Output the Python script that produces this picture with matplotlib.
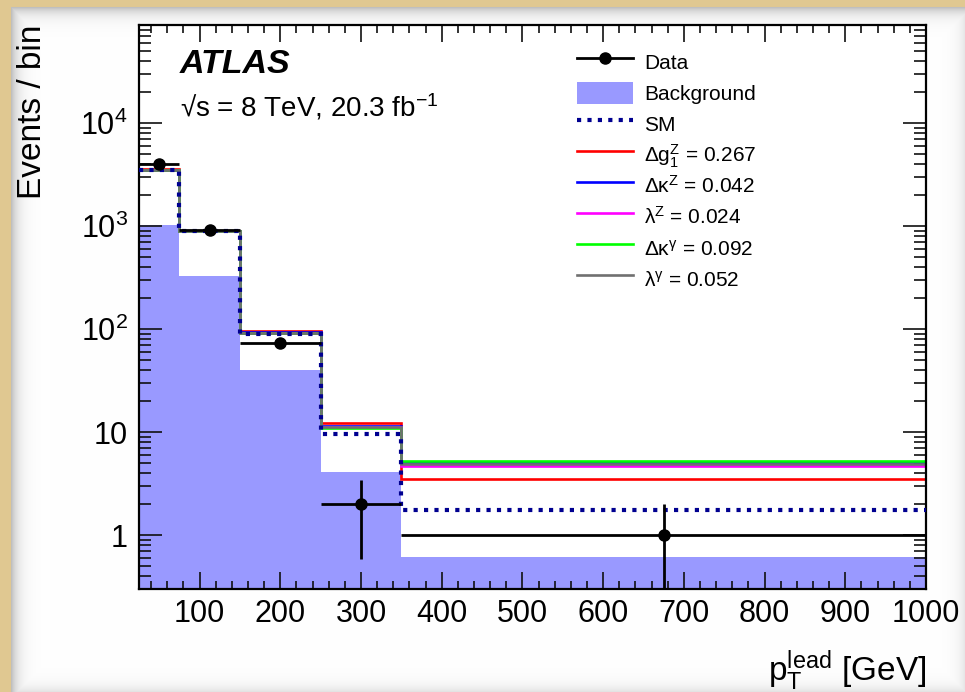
import numpy as np
import matplotlib.pyplot as plt
from matplotlib.lines import Line2D
from matplotlib.legend_handler import HandlerPatch
from matplotlib.ticker import FixedLocator, LogLocator, MultipleLocator, FixedFormatter, NullFormatter

plt.rcParams['font.family'] = ['Liberation Sans', 'DejaVu Sans']
plt.rcParams['mathtext.fontset'] = 'custom'
plt.rcParams['mathtext.rm'] = 'Liberation Sans'
plt.rcParams['mathtext.it'] = 'Liberation Sans'
plt.rcParams['mathtext.default'] = 'regular'

# binning in leading photon pT (GeV)
edges = [25, 75, 150, 250, 350, 1000]

# event counts per bin
data = [4040, 920, 74, 2, 1]
background = [1030, 327, 40, 4.06, 0.62]
sm = [3520, 890, 89, 9.5, 1.76]
dg1z = [3560, 905, 97, 12.3, 3.5]
dkz = [3540, 895, 93, 11.5, 5.1]
lz = [3530, 895, 92, 11.3, 4.65]
dkg = [3550, 900, 92, 11.1, 5.25]
lg = [3530, 893, 92, 11.3, 4.9]

atgc_labels = [r'$\Delta g_{1}^{Z}$ = 0.267', r'$\Delta\kappa^{Z}$ = 0.042',
               r'$\lambda^{Z}$ = 0.024', r'$\Delta\kappa^{\gamma}$ = 0.092',
               r'$\lambda^{\gamma}$ = 0.052']
atgc_colors = ['#ff0000', '#0000ff', '#ff00ff', '#00ff00', '#707070']

ytick_vals = [1, 10, 100, 1000, 10000]
ytick_labels = ['1', '10', r'$10^{2}$', r'$10^{3}$', r'$10^{4}$']

W, H = 965, 692
fig = plt.figure(figsize=(W / 100, H / 100), dpi=100)

# paper backdrop with a soft inner shadow on the white sheet
yy, xx = np.mgrid[0:H, 0:W]
x0, y0 = 11, 7
d = np.minimum.reduce([xx - x0, yy - y0, W + 6 - xx, H + 5 - yy]).astype(float)
shade = 1 - 0.25 * np.exp(-np.clip(d, 0, None) / 7.0)
img = np.repeat(shade[..., None], 3, axis=2)
beige = np.array([224, 200, 146]) / 255.0
img[(xx < x0) | (yy < y0)] = beige
bg = fig.add_axes([0, 0, 1, 1], zorder=-10)
bg.imshow(img, aspect='auto', interpolation='bilinear')
bg.set_axis_off()

ax = fig.add_axes([139 / W, 1 - 589 / H, 787 / W, 564 / H])
ax.set_facecolor('white')

centers = [(lo + hi) / 2 for lo, hi in zip(edges[:-1], edges[1:])]
halfw = [(hi - lo) / 2 for lo, hi in zip(edges[:-1], edges[1:])]

ax.stairs(background, edges, fill=True, baseline=1e-3, color='#9999ff', zorder=1)

for vals, col in zip([dg1z, dkz, lz, dkg, lg], atgc_colors):
    ax.stairs(vals, edges, baseline=None, color=col, lw=1.9, zorder=2)

sm_style = dict(color='#000090', lw=3.0, linestyle=(0, (1, 1.5)))
ax.stairs(sm, edges, baseline=None, zorder=3, **sm_style)

ax.errorbar(centers, data, xerr=halfw, yerr=np.sqrt(data), fmt='o', color='black',
            ms=8, lw=2.0, capsize=0, zorder=4)

ax.set_yscale('log')
ax.set_xlim(25, 1000)
ax.set_ylim(0.3, 9e4)

ax.xaxis.set_major_locator(MultipleLocator(100))
ax.xaxis.set_minor_locator(MultipleLocator(20))
ax.yaxis.set_major_locator(FixedLocator(ytick_vals))
ax.yaxis.set_major_formatter(FixedFormatter(ytick_labels))
ax.yaxis.set_minor_locator(LogLocator(base=10, subs=np.arange(2, 10)))
ax.yaxis.set_minor_formatter(NullFormatter())

ax.tick_params(which='both', direction='in', top=True, right=True, width=1.2,
               labelsize=22, color='#111111')
ax.tick_params(axis='x', which='major', length=12, pad=7)
ax.tick_params(axis='x', which='minor', length=6)
ax.tick_params(axis='y', which='major', length=16.5, pad=8)
ax.tick_params(axis='y', which='minor', length=8.5)
for s in ax.spines.values():
    s.set_linewidth(1.6)

ax.set_ylabel('Events / bin', fontsize=24, loc='top')
ax.yaxis.set_label_coords(-0.115, 1.0)
ax.set_xlabel(r'$p_{T}^{lead}$ [GeV]', fontsize=24, loc='right')
ax.xaxis.set_label_coords(1.0, -0.105)

ax.text(0.052, 0.915, 'ATLAS', transform=ax.transAxes, fontsize=24.5,
        fontweight='bold', fontstyle='italic')
ax.text(0.052, 0.837, '\u221as = 8 TeV, 20.3 fb$^{-1}$', transform=ax.transAxes,
        fontsize=20)


def short_box(legend, orig_handle, xdescent, ydescent, width, height, fontsize):
    # flatter fill swatch, level with its label
    yc = (height - ydescent) / 2 - 0.22 * fontsize
    h = 0.72 * height
    return plt.Rectangle((-xdescent, yc - h / 2), width, h)


handles = [Line2D([], [], color='black', marker='o', ms=8, lw=2.0),
           plt.Rectangle((0, 0), 1, 1, facecolor='#9999ff', edgecolor='none'),
           Line2D([], [], **sm_style)]
handles += [Line2D([], [], color=c, lw=1.9) for c in atgc_colors]
labels = ['Data', 'Background', 'SM'] + atgc_labels
ax.legend(handles, labels, loc='upper left', bbox_to_anchor=(0.557, 0.962),
          frameon=False, fontsize=15, handlelength=2.65, handletextpad=0.55,
          handleheight=1.92, labelspacing=0, borderpad=0, borderaxespad=0,
          handler_map={plt.Rectangle: HandlerPatch(patch_func=short_box)})

fig.savefig('out.png', dpi=100)
